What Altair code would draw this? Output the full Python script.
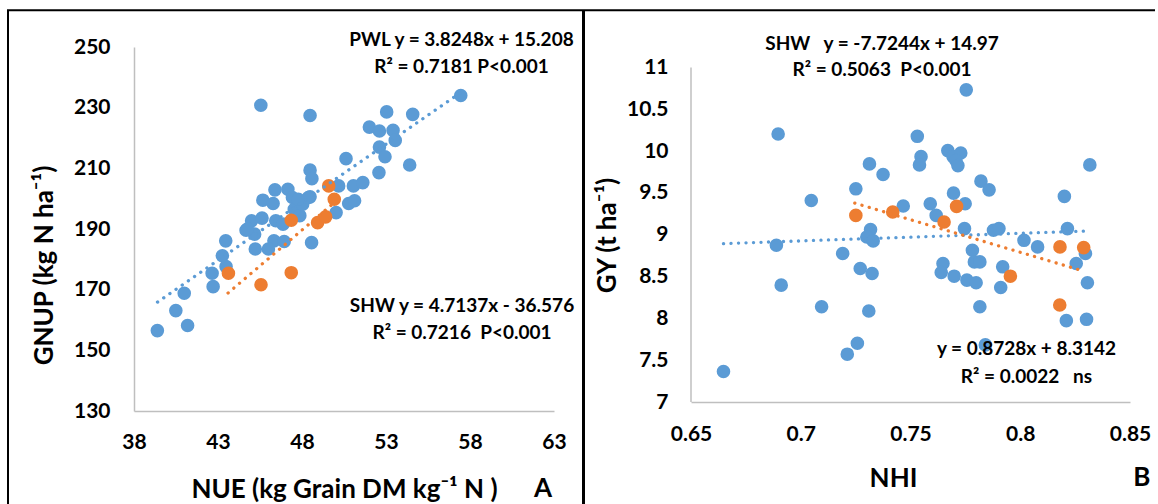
import altair as alt
import pandas as pd

# ---------------- Panel A data (NUE vs GNUP) ----------------
a_pwl_nue = [39.39, 40.49, 41.19, 40.99, 42.71, 42.65, 43.48, 43.26, 43.46, 45.55,
             48.48, 45.22, 44.67, 45.00, 45.18, 45.62, 45.67, 46.28, 46.39, 46.44,
             46.33, 46.00, 46.94, 46.87, 47.16, 47.43, 47.54, 47.87, 48.04, 48.48,
             48.48, 48.59, 48.57, 50.03, 50.18, 50.62, 50.78, 51.13, 51.06, 51.62,
             52.58, 52.61, 52.94, 52.01, 52.61, 53.42, 53.55, 53.04, 54.59, 54.41,
             57.45, 44.75, 47.78, 48.38]
a_pwl_gnup = [156.5, 163.1, 158.2, 168.8, 171.0, 175.4, 177.6, 181.2, 186.1, 230.8,
              227.4, 183.4, 189.6, 192.7, 188.3, 193.6, 199.5, 198.4, 202.9, 192.7,
              186.1, 183.4, 185.9, 191.6, 203.1, 200.4, 196.5, 194.4, 198.2, 200.6,
              209.4, 206.6, 185.5, 195.4, 204.2, 213.2, 198.4, 199.3, 204.2, 205.3,
              208.6, 217.0, 213.8, 223.6, 222.3, 222.5, 219.2, 228.6, 227.8, 211.1,
              234.0, 190.0, 199.8, 200.4]
a_shw_nue = [43.62, 45.56, 47.36, 47.36, 48.93, 49.41, 49.59, 49.92]
a_shw_gnup = [175.4, 171.6, 175.6, 192.9, 192.1, 194.0, 204.2, 199.8]
a_trend_pwl_x = [39.4, 57.4]
a_trend_pwl_y = [165.9, 234.8]
a_trend_shw_x = [43.6, 49.9]
a_trend_shw_y = [168.9, 198.6]

# ---------------- Panel B data (NHI vs GY) ----------------
b_pwl_nhi = [0.6648, 0.6897, 0.6889, 0.6911, 0.7048, 0.7095, 0.7191, 0.7212, 0.7258, 0.7251,
             0.7271, 0.7313, 0.7318, 0.7301, 0.7330, 0.7325, 0.7310, 0.7375, 0.7467, 0.7531,
             0.7548, 0.7541, 0.7590, 0.7617, 0.7648, 0.7640, 0.7699, 0.7670, 0.7694, 0.7729,
             0.7707, 0.7716, 0.7696, 0.7749, 0.7746, 0.7754, 0.7782, 0.7791, 0.7816, 0.7757,
             0.7799, 0.7816, 0.7841, 0.7821, 0.7858, 0.7878, 0.7903, 0.7920, 0.7911, 0.8017,
             0.8079, 0.8201, 0.8215, 0.8210, 0.8255, 0.8297, 0.8306, 0.8302, 0.8317]
b_pwl_gy = [7.365, 10.206, 8.875, 8.398, 9.411, 8.140, 8.776, 7.572, 7.703, 9.550,
            8.597, 9.848, 9.062, 8.974, 8.927, 8.537, 8.088, 9.721, 9.344, 10.178,
            9.935, 9.836, 9.371, 9.232, 8.656, 8.549, 8.505, 10.007, 9.935, 9.979,
            9.888, 9.828, 9.498, 9.371, 9.074, 10.734, 8.815, 8.676, 8.676, 8.458,
            8.426, 8.140, 7.683, 9.642, 9.538, 9.054, 9.074, 8.617, 8.370, 8.934,
            8.855, 9.459, 9.074, 7.973, 8.656, 8.776, 8.426, 7.989, 9.836]
b_shw_nhi = [0.7251, 0.7419, 0.7653, 0.7710, 0.7955, 0.8181, 0.8289, 0.8180]
b_shw_gy = [9.232, 9.272, 9.153, 9.340, 8.505, 8.855, 8.847, 8.160]
b_trend_pwl_x = [0.6648, 0.8310]
b_trend_pwl_y = [8.895, 9.046]
b_trend_shw_x = [0.7246, 0.8264]
b_trend_shw_y = [9.379, 8.585]

BLUE = "#5B9BD5"
ORANGE = "#ED7D31"
FONT = "Lato"
LABEL_SIZE = 21
TITLE_SIZE = 26
NOTE_SIZE = 19
MARK_SIZE = 185

series_scale = alt.Scale(domain=["PWL", "SHW"], range=[BLUE, ORANGE])


def series_df(x1, y1, x2, y2):
    return pd.DataFrame({
        "x": list(x1) + list(x2),
        "y": list(y1) + list(y2),
        "s": ["PWL"] * len(x1) + ["SHW"] * len(x2),
    })


one = pd.DataFrame({"d": [0]})


def note(text, x, y, size=NOTE_SIZE):
    return alt.Chart(one).mark_text(
        text=text, font=FONT, fontSize=size, fontWeight="bold", color="black",
        align="center", baseline="middle"
    ).encode(x=alt.value(x), y=alt.value(y))


# ---------------- Panel A ----------------
xa = alt.Scale(domain=[38, 63], nice=False, zero=False)
ya = alt.Scale(domain=[130, 250], nice=False, zero=False)

a_points = alt.Chart(series_df(a_pwl_nue, a_pwl_gnup, a_shw_nue, a_shw_gnup)).mark_circle(
    size=MARK_SIZE, opacity=1
).encode(
    x=alt.X("x:Q", scale=xa, axis=alt.Axis(
        values=[38, 43, 48, 53, 58, 63], format="d",
        title="NUE (kg Grain DM kg\u207b\u00b9 N )",
        labelPadding=20, titleX=210, titleY=78,
        titleAlign="center", titleBaseline="middle")),
    y=alt.Y("y:Q", scale=ya, axis=alt.Axis(
        values=[130, 150, 170, 190, 210, 230, 250], format="d",
        title="GNUP (kg N ha\u207b\u00b9)",
        labelPadding=24, titleX=-90, titleY=218, titleAngle=-90,
        titleAlign="center", titleBaseline="middle")),
    color=alt.Color("s:N", scale=series_scale, legend=None),
)

a_trend = alt.Chart(series_df(a_trend_pwl_x, a_trend_pwl_y, a_trend_shw_x, a_trend_shw_y)).mark_line(
    strokeWidth=3.3, strokeCap="round", strokeDash=[0.1, 7.4]
).encode(
    x=alt.X("x:Q", scale=xa), y=alt.Y("y:Q", scale=ya),
    color=alt.Color("s:N", scale=series_scale, legend=None),
    detail="s:N",
)

border_left = alt.Chart(one).mark_rule(color="black", strokeWidth=2).encode(
    x=alt.value(-126), y=alt.value(-36.7), y2=alt.value(457))
border_top = alt.Chart(one).mark_rule(color="black", strokeWidth=2).encode(
    x=alt.value(-127), x2=alt.value(1021), y=alt.value(-36.7))
border_mid = alt.Chart(one).mark_rule(color="black", strokeWidth=3).encode(
    x=alt.value(449.5), y=alt.value(-36.7), y2=alt.value(457))

left = alt.layer(
    a_points, a_trend,
    note("PWL y = 3.8248x + 15.208", 327.5, -6.7),
    note("R\u00b2 = 0.7181 P<0.001", 327.5, 20),
    note("SHW y = 4.7137x - 36.576", 328, 259.3),
    note("R\u00b2 = 0.7216\u00a0 P<0.001", 328, 286),
    note("A", 409, 442.3, TITLE_SIZE),
    border_left, border_top, border_mid,
).properties(width=420, height=364)

# ---------------- Panel B ----------------
xb = alt.Scale(domain=[0.65, 0.85], nice=False, zero=False)
yb = alt.Scale(domain=[7, 11.2464], nice=False, zero=False)

b_points = alt.Chart(series_df(b_pwl_nhi, b_pwl_gy, b_shw_nhi, b_shw_gy)).mark_circle(
    size=MARK_SIZE, opacity=1
).encode(
    x=alt.X("x:Q", scale=xb, axis=alt.Axis(
        values=[0.65, 0.7, 0.75, 0.8, 0.85], format=".2~f",
        title="NHI", labelPadding=21, titleX=202, titleY=76,
        titleAlign="center", titleBaseline="middle")),
    y=alt.Y("y:Q", scale=yb, axis=alt.Axis(
        values=[7, 7.5, 8, 8.5, 9, 9.5, 10, 10.5, 11], format=".1~f",
        title="GY (t ha\u207b\u00b9)", domain=False,
        labelPadding=23, titleX=-84, titleY=188, titleAngle=-90,
        titleAlign="center", titleBaseline="middle")),
    color=alt.Color("s:N", scale=series_scale, legend=None),
)

b_trend = alt.Chart(series_df(b_trend_pwl_x, b_trend_pwl_y, b_trend_shw_x, b_trend_shw_y)).mark_line(
    strokeWidth=3.3, strokeCap="round", strokeDash=[0.1, 7.4]
).encode(
    x=alt.X("x:Q", scale=xb), y=alt.Y("y:Q", scale=yb),
    color=alt.Color("s:N", scale=series_scale, legend=None),
    detail="s:N",
)

b_yaxis = alt.Chart(one).mark_rule(color="#BFBFBF", strokeWidth=1.5).encode(
    x=alt.datum(0.65, scale=xb), y=alt.datum(7, scale=yb), y2=alt.datum(11))

right = alt.layer(
    b_yaxis, b_points, b_trend,
    note("SHW\u00a0\u00a0\u00a0y = -7.7244x + 14.97", 191, -3),
    note("R\u00b2 = 0.5063\u00a0 P<0.001", 191, 22.6),
    note("y = 0.8728x + 8.3142", 335.5, 302.3),
    note("R\u00b2 = 0.0022\u00a0\u00a0\u00a0ns", 335.5, 330),
    note("B", 450.7, 431.3, TITLE_SIZE),
).properties(width=439, height=355)

chart = alt.hconcat(left, right, spacing=137, bounds="flush").properties(
    padding={"left": 6, "top": 8, "right": 0, "bottom": 0}
).configure(font=FONT).configure_view(stroke=None).configure_axis(
    grid=False, ticks=False, tickSize=0, labelFlush=False,
    domainColor="#BFBFBF", domainWidth=1.5,
    labelFont=FONT, labelFontSize=LABEL_SIZE, labelFontWeight="bold", labelColor="black",
    titleFont=FONT, titleFontSize=TITLE_SIZE, titleFontWeight="bold", titleColor="black",
)

chart.save("out.html", embed_options={"renderer": "svg", "actions": False})
